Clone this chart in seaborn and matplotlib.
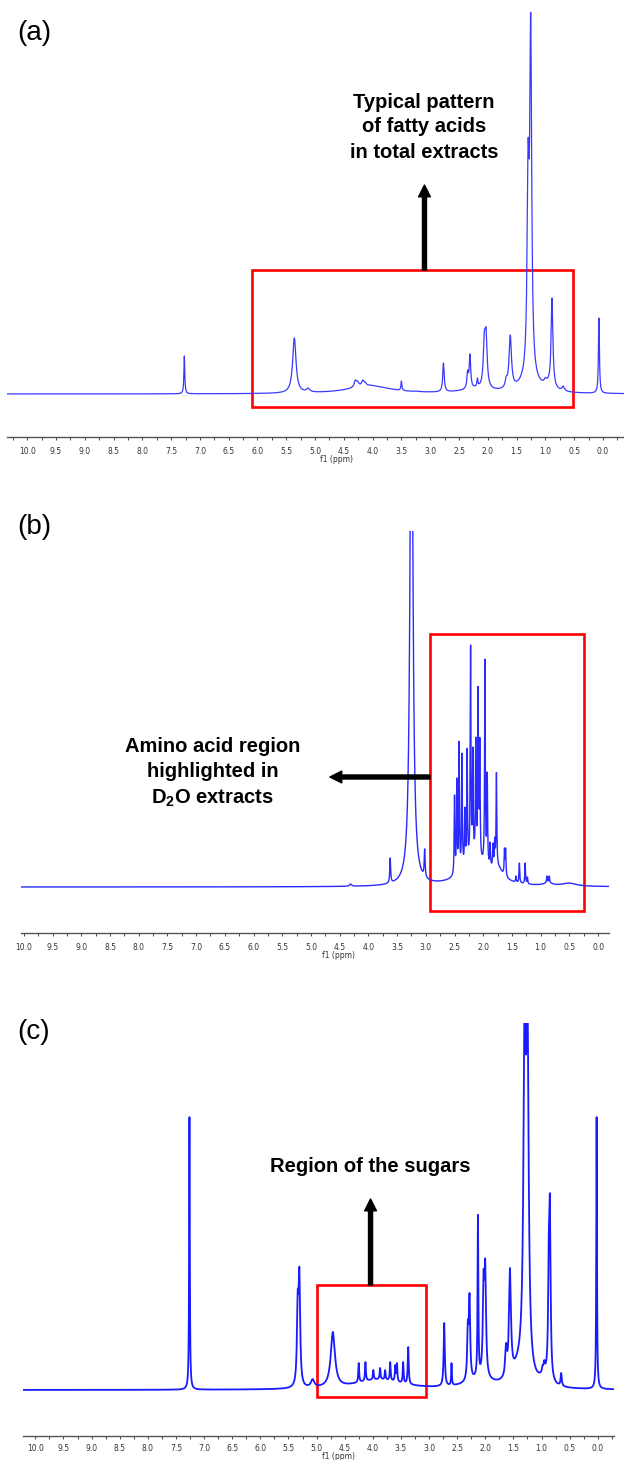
import numpy as np
import pandas as pd
import matplotlib
matplotlib.use("Agg")
import matplotlib.pyplot as plt
import seaborn as sns
from matplotlib.patches import Rectangle
from matplotlib.ticker import MultipleLocator

# ---- peak tables (ppm, height above baseline, half width) ----
# (a) total extract
a_ppm    = [7.27, 5.36, 5.12, 4.30, 4.26, 4.17, 4.13, 3.67, 3.50, 3.23, 2.77, 2.60, 2.35, 2.31,
            2.18, 2.06, 2.03, 1.68, 1.61, 1.30, 1.255, 1.00, 0.97, 0.885, 0.69, 0.07]
a_height = [38, 56, 6, 14, 13, 14, 12, 5, 13, 3, 31, 2, 24, 40,
            16, 63, 66, 18, 59, 254, 382, 16, 15, 96, 8, 76]
a_width  = [0.009, 0.035, 0.035, 0.025, 0.025, 0.025, 0.025, 0.012, 0.01, 0.035, 0.015, 0.01, 0.015, 0.015,
            0.01, 0.022, 0.022, 0.02, 0.025, 0.02, 0.02, 0.025, 0.025, 0.018, 0.025, 0.01]
a_hump_ppm, a_hump_height, a_hump_width = [4.05, 1.28, 2.2, 0.95], [8, 12, 4, 5], [0.45, 0.18, 0.3, 0.1]

# (b) D2O extract
b_ppm    = [4.31, 3.62, 3.25, 3.02, 2.98, 2.72, 2.50, 2.46, 2.42, 2.37, 2.32, 2.28, 2.22, 2.18,
            2.13, 2.09, 2.06, 1.97, 1.93, 1.88, 1.83, 1.80, 1.77, 1.71, 1.63, 1.61, 1.43, 1.37,
            1.27, 1.23, 0.89, 0.85]
b_height = [3, 29, 600, 38, 8, 6, 92, 109, 146, 134, 80, 139, 242, 140,
            150, 201, 150, 228, 115, 45, 44, 50, 115, 20, 39, 39, 11, 24,
            24, 10, 11, 11]
b_width  = [0.02, 0.009, 0.028, 0.009, 0.009, 0.02] + [0.007] * 26
b_hump_ppm, b_hump_height, b_hump_width = [2.15, 1.75, 0.5, 0.87], [25, 12, 3, 3], [0.25, 0.12, 0.15, 0.08]

# (c) lipid extract, sugar region
c_ppm    = [7.26, 5.335, 5.305, 5.07, 4.71, 4.25, 4.13, 3.99, 3.87, 3.78, 3.69, 3.60, 3.57,
            3.46, 3.37, 2.73, 2.60, 2.31, 2.28, 2.13, 2.03, 2.00, 1.63, 1.56, 1.30, 1.25,
            0.98, 0.95, 0.87, 0.85, 0.65, 0.02]
c_height = [273, 100, 123, 11, 58, 27, 28, 20, 22, 20, 28, 25, 27,
            28, 43, 67, 27, 70, 97, 176, 120, 131, 47, 122, 400, 400,
            25, 30, 160, 195, 17, 273]
c_width  = [0.007, 0.016, 0.016, 0.035, 0.045, 0.009, 0.009, 0.009, 0.009, 0.009, 0.009, 0.009, 0.009,
            0.009, 0.01, 0.012, 0.007, 0.014, 0.014, 0.008, 0.016, 0.016, 0.018, 0.02, 0.025, 0.025,
            0.014, 0.014, 0.014, 0.014, 0.012, 0.007]
c_hump_ppm, c_hump_height, c_hump_width = [3.9, 1.4, 2.1, 0.95], [10, 16, 8, 8], [0.5, 0.15, 0.3, 0.1]


def lorentz(x, p, w):
    return 1.0 / (1.0 + ((x - p) / w) ** 2)


def spectrum(grid, ppm, height, width, hp, hh, hw):
    ppm, height, width = map(np.asarray, (ppm, height, width))
    humps = lambda x: sum(h * lorentz(x, p, w) for p, h, w in zip(hp, hh, hw))
    # amplitudes so the summed curve passes through the read heights
    M = lorentz(ppm[:, None], ppm[None, :], width[None, :])
    amp = np.linalg.solve(M, height - humps(ppm))
    amp = np.clip(amp, 0, None)
    y = humps(grid) + sum(a * lorentz(grid, p, w) for p, a, w in zip(ppm, amp, width))
    return pd.DataFrame({"ppm": grid, "intensity": y})


sns.set_theme(style="white")
plt.rcParams["font.family"] = ["Liberation Sans", "DejaVu Sans"]
plt.rcParams["mathtext.fontset"] = "custom"
plt.rcParams["mathtext.bf"] = "Liberation Sans:bold"
plt.rcParams["mathtext.rm"] = "Liberation Sans"

W, H = 624, 1460
fig = plt.figure(figsize=(W / 100, H / 100), dpi=100)


def px_axes(x0, x1, ytop, ybot):
    return fig.add_axes([x0 / W, 1 - ybot / H, (x1 - x0) / W, (ybot - ytop) / H])


def style_axis(ax, xlim, ylim, lab_x, lab_px, pad=4.5):
    ax.set_xlim(*xlim)
    ax.set_ylim(*ylim)
    for s in ["top", "left", "right"]:
        ax.spines[s].set_visible(False)
    ax.spines["bottom"].set_color("#555555")
    ax.spines["bottom"].set_linewidth(1.0)
    ax.set_yticks([])
    ax.set_ylabel("")
    ax.xaxis.set_major_locator(MultipleLocator(0.5))
    ax.xaxis.set_minor_locator(MultipleLocator(0.25))
    ax.xaxis.set_major_formatter(matplotlib.ticker.FormatStrFormatter("%.1f"))
    ax.tick_params(axis="x", which="both", bottom=True, direction="out", color="#555555",
                   labelsize=5.5, labelcolor="#333333", pad=pad, length=2.5, width=0.8)
    ax.tick_params(axis="x", which="minor", length=1.8)
    for t in ax.get_xticklabels():
        t.set_family("DejaVu Sans")
    ax.set_xlabel("f1 (ppm)", fontsize=5.5, color="#333333", family="DejaVu Sans", labelpad=0)
    ax.xaxis.label.set_va("center")
    h_px = ax.get_position().height * H
    ax.xaxis.set_label_coords(lab_x, -lab_px / h_px)
    ax.set_facecolor("none")


bold = dict(fontsize=14.5, fontweight="bold", color="black", ha="center", va="center")
arrow = dict(width=2.9, headwidth=8.5, headlength=8.5, color="black", shrink=0)

# ---------------- (a) ----------------
ax = px_axes(7, 624, 12, 437)
xl = (10.35, -0.365)
df = spectrum(np.linspace(xl[0], xl[1], 9000), a_ppm, a_height, a_width,
              a_hump_ppm, a_hump_height, a_hump_width)
sns.lineplot(data=df, x="ppm", y="intensity", ax=ax, color="#3a3aff", lw=0.9, estimator=None)
style_axis(ax, xl, (-43, 382), 0.534, 23)
ax.add_patch(Rectangle((6.09, -13), 0.52 - 6.09, 137, fill=False, ec="#ff0000", lw=1.9, clip_on=False))
ax.annotate("", xy=(3.10, 209), xytext=(3.10, 124), arrowprops=arrow, annotation_clip=False)
ax.text(3.11, 267, "Typical pattern\nof fatty acids\nin total extracts", linespacing=1.4, **bold)

# ---------------- (b) ----------------
ax = px_axes(21, 609, 531, 933)
xl = (10.05, -0.19)
df = spectrum(np.linspace(xl[0], xl[1], 9000), b_ppm, b_height, b_width,
              b_hump_ppm, b_hump_height, b_hump_width)
sns.lineplot(data=df, x="ppm", y="intensity", ax=ax, color="#2a2aff", lw=1.0, estimator=None)
style_axis(ax, xl, (-46, 356), 0.54, 23)
ax.add_patch(Rectangle((2.93, -24.5), 0.25 - 2.93, 277.5, fill=False, ec="#ff0000", lw=1.9, clip_on=False))
ax.annotate("", xy=(4.67, 110), xytext=(2.93, 110), arrowprops=arrow, annotation_clip=False)
ax.text(6.71, 114, "Amino acid region\nhighlighted in\nD$_\\mathbf{2}$O extracts", linespacing=1.4, **bold)

# ---------------- (c) ----------------
ax = px_axes(23, 613.5, 1023, 1436)
xl = (10.22, -0.28)
df = spectrum(np.linspace(xl[0], xl[1], 9000), c_ppm, c_height, c_width,
              c_hump_ppm, c_hump_height, c_hump_width)
sns.lineplot(data=df, x="ppm", y="intensity", ax=ax, color="#1a1aff", lw=1.3, estimator=None)
style_axis(ax, xl, (-46, 367), 0.534, 20.5, pad=3.3)
ax.add_patch(Rectangle((5.0, -7), 3.05 - 5.0, 112, fill=False, ec="#ff0000", lw=1.9, clip_on=False))
ax.annotate("", xy=(4.04, 191), xytext=(4.04, 105), arrowprops=arrow, annotation_clip=False)
ax.text(4.05, 223, "Region of the sugars", **bold)

# panel letters
for lab, y in [("(a)", 33), ("(b)", 527), ("(c)", 1032)]:
    fig.text(17 / W, 1 - y / H, lab, fontsize=20, ha="left", va="center", color="black")

fig.savefig("out.png", dpi=100)
